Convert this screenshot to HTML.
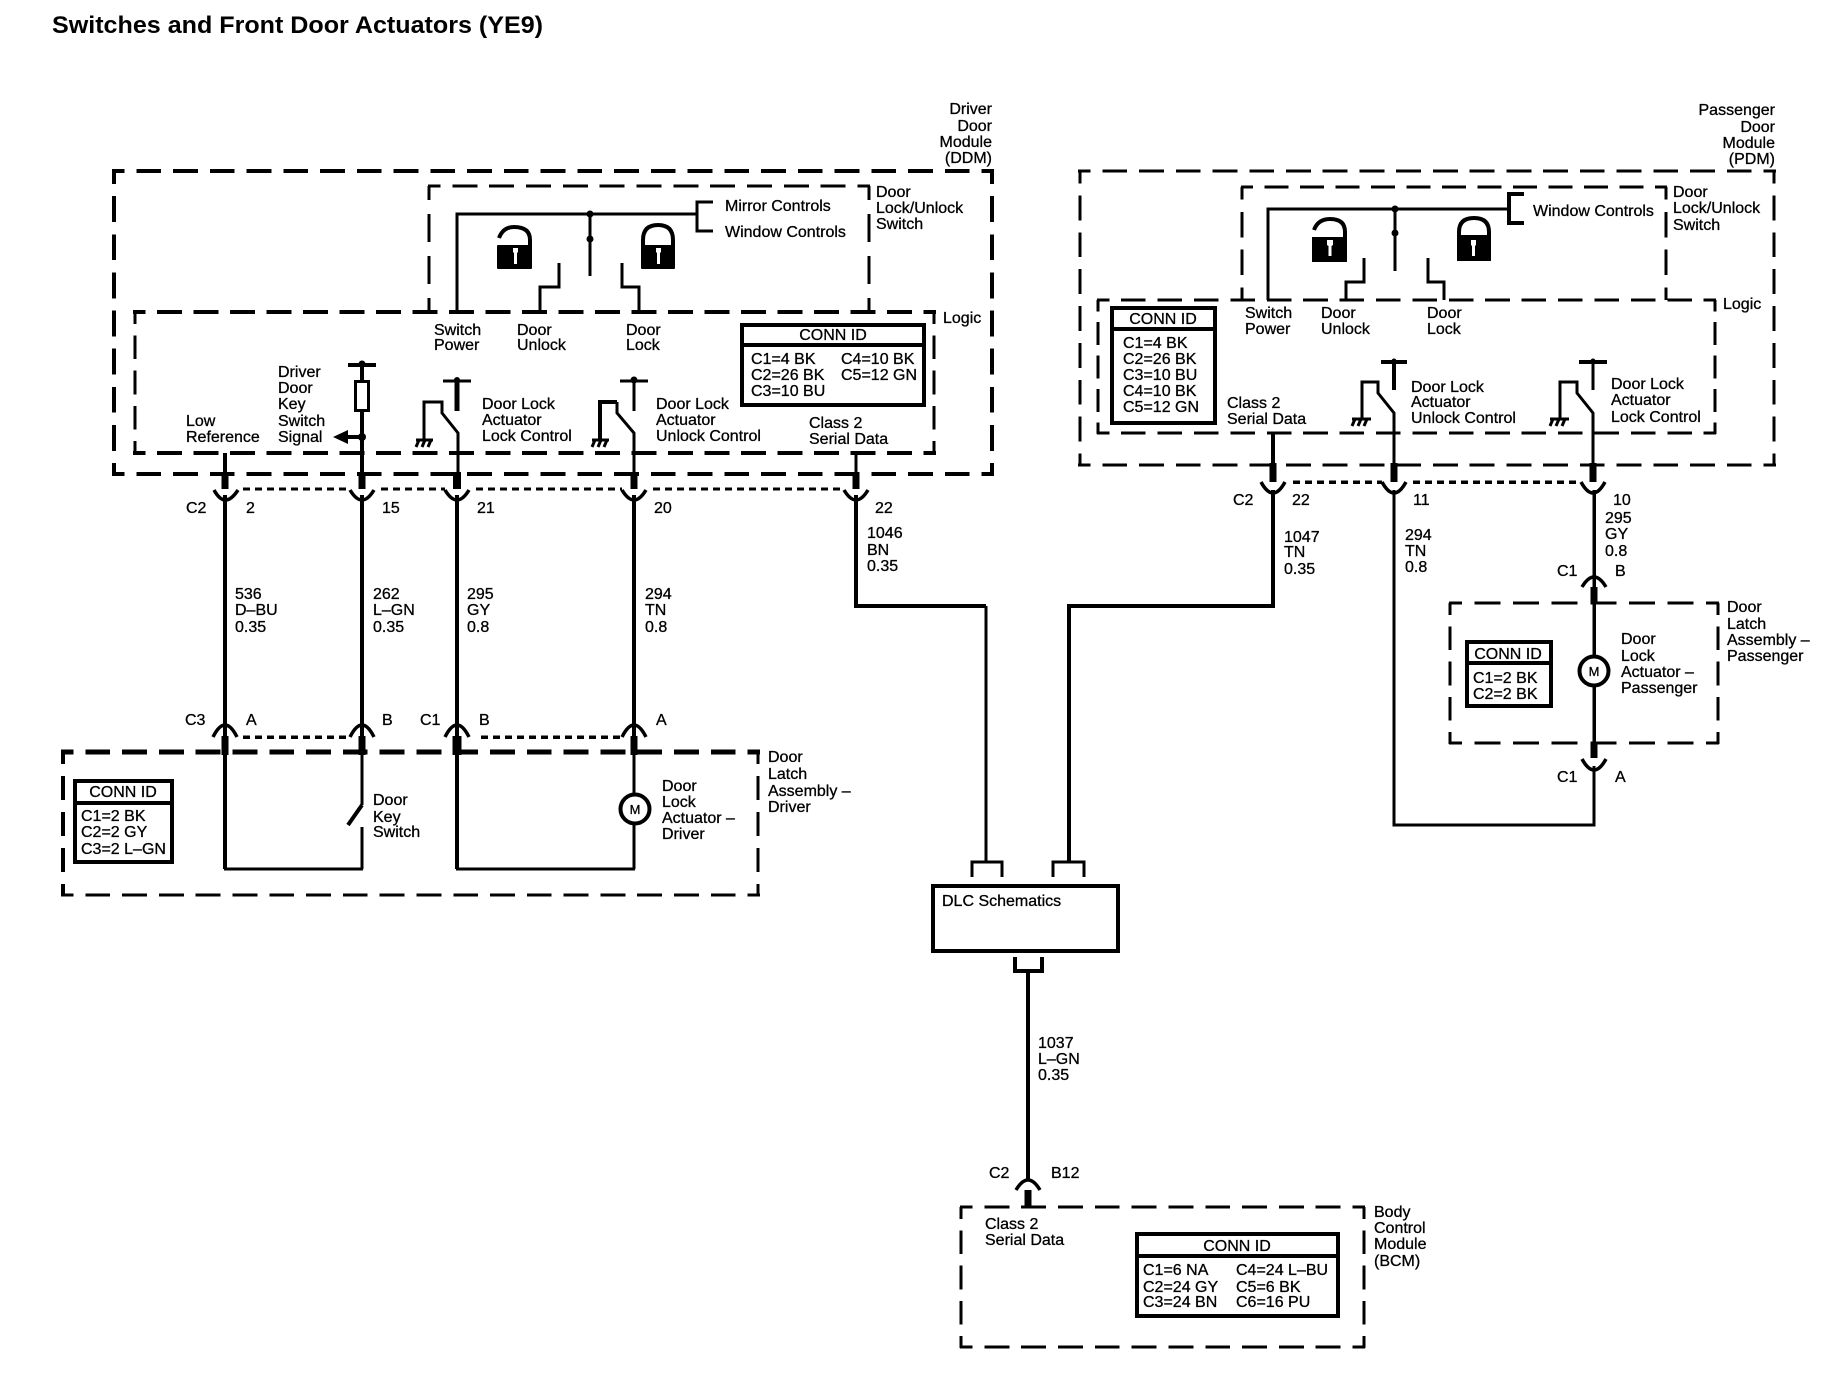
<!DOCTYPE html>
<html><head><meta charset="utf-8"><title>Switches and Front Door Actuators (YE9)</title>
<style>
html,body{margin:0;padding:0;background:#fff}
svg{display:block}
text{font-family:"Liberation Sans",sans-serif;font-size:16px;fill:#000;stroke:#000;stroke-width:.3}
.t{font-weight:bold;font-size:24px;stroke-width:0}
.m{text-anchor:end}
.c{text-anchor:middle}
.d{fill:none;stroke:#000;stroke-width:4;stroke-dasharray:25 12;stroke-dashoffset:12.5}
.e{fill:none;stroke:#000;stroke-width:3;stroke-dasharray:25 12;stroke-dashoffset:12.5}
.w{fill:none;stroke:#000;stroke-width:4}
.n{fill:none;stroke:#000;stroke-width:3}
.k{fill:none;stroke:#000;stroke-width:7}
.o{fill:none;stroke:#000;stroke-width:3.5;stroke-dasharray:7 5}
.p{fill:none;stroke:#000;stroke-width:3;stroke-dasharray:7 5}
.b{fill:#fff;stroke:#000;stroke-width:4}
.u{fill:none;stroke:#000;stroke-width:3.5}
</style></head><body>
<svg width="1826" height="1392" viewBox="0 0 1826 1392" xmlns="http://www.w3.org/2000/svg">
<rect width="1826" height="1392" fill="#fff"/>
<text class="t" x="52" y="33" textLength="491" lengthAdjust="spacingAndGlyphs">Switches and Front Door Actuators (YE9)</text>

<!-- dashed boxes -->
<g shape-rendering="crispEdges">
<path class="d" pathLength="888" d="M112 171H994"/><path class="d" pathLength="888" d="M112 474H994"/>
<path class="d" pathLength="296" d="M114 171V476"/><path class="d" pathLength="296" d="M992 171V476"/>
<path class="e" pathLength="444" d="M428 186H870"/><path class="e" pathLength="111" d="M429 186V312"/><path class="e" pathLength="111" d="M869 186V312"/>
<path class="d" pathLength="814" d="M133 312H936"/><path class="d" pathLength="814" d="M133 453H936"/>
<path class="e" pathLength="148" d="M135 312V453"/><path class="e" pathLength="148" d="M934 312V453"/>
<path class="d" style="stroke-width:5" pathLength="703" d="M61 752H760"/><path class="e" pathLength="703" d="M61 895H760"/>
<path class="d" pathLength="148" d="M63 752V896"/><path class="d" style="stroke-width:3" pathLength="148" d="M758 752V896"/>

<path class="e" pathLength="703" d="M1078 171H1776"/><path class="e" pathLength="703" d="M1078 465H1776"/>
<path class="e" pathLength="296" d="M1080 171V466"/><path class="e" pathLength="296" d="M1774 171V466"/>
<path class="e" pathLength="444" d="M1241 187H1667"/><path class="e" pathLength="111" d="M1242 187V300"/><path class="e" pathLength="111" d="M1666 187V300"/>
<path class="e" pathLength="629" d="M1097 300H1716"/><path class="e" pathLength="629" d="M1097 433H1716"/>
<path class="e" pathLength="148" d="M1098 300V434"/><path class="e" pathLength="148" d="M1715 300V434"/>
<path class="e" pathLength="259" d="M1449 603H1719"/><path class="e" pathLength="259" d="M1449 743H1719"/>
<path class="e" pathLength="148" d="M1450 603V744"/><path class="e" pathLength="148" d="M1718 603V744"/>
<path class="e" pathLength="407" d="M960 1207H1365"/><path class="e" pathLength="407" d="M960 1347H1365"/>
<path class="e" pathLength="148" d="M961 1207V1348"/><path class="e" pathLength="148" d="M1364 1207V1348"/>
</g>

<!-- driver switch internals -->
<g shape-rendering="crispEdges">
<path class="n" d="M457 312V214H697"/>
<path class="n" d="M590 214V276"/>
<path class="n" d="M713 202H697V231H713"/>
<path class="n" d="M559 263V287H540V312"/>
<path class="n" d="M622 263V287H639V312"/>
<!-- passenger switch internals -->
<path class="n" d="M1268 300V209H1509"/>
<path class="n" d="M1395 209V271"/>
<path class="w" d="M1524 194H1509V223H1524"/>
<path class="n" d="M1364 258V282H1346V300"/>
<path class="n" d="M1428 258V282H1444V300"/>
</g>
<circle cx="590" cy="214" r="3.5"/><circle cx="590" cy="239" r="3.5"/>
<circle cx="1395" cy="209" r="3.5"/><circle cx="1395" cy="233" r="3.5"/>

<!-- padlocks -->
<rect x="497" y="245" width="35" height="24" rx="1"/>
<path class="w" d="M499 238Q503 227 514 227Q530 227 530 240V247"/>
<path fill="#fff" d="M513 248h5v4l-1 1v11h-3v-11l-1-1z"/>
<rect x="641" y="245" width="34" height="24" rx="1"/>
<path class="w" d="M643 247V240Q643 225 658 225Q673 225 673 240V247"/>
<path fill="#fff" d="M656 248h5v4l-1 1v11h-3v-11l-1-1z"/>
<rect x="1312" y="237" width="35" height="25"/>
<path class="w" d="M1314 230Q1318 219 1330 219Q1345 219 1345 232V238"/>
<path fill="#fff" d="M1327 240h6v5l-1.500 1v10h-3v-10l-1.500-1z"/>
<rect x="1457" y="235" width="34" height="26"/>
<path class="w" d="M1459 237V232Q1459 218 1474 218Q1489 218 1489 232V237"/>
<path fill="#fff" d="M1471 240h5v5l-1 1v10h-3v-10l-1-1z"/>

<!-- driver logic internals -->
<path class="w" d="M225 453V474" shape-rendering="crispEdges"/>
<path class="w" d="M348 365H376" shape-rendering="crispEdges"/>
<circle cx="362" cy="364" r="3.500"/>
<path class="w" d="M362 365V381M362 411V474" shape-rendering="crispEdges"/>
<rect x="355.500" y="381.500" width="13" height="29" fill="#fff" stroke="#000" stroke-width="3" shape-rendering="crispEdges"/>
<path d="M333 437L348 430V444Z"/><path class="w" d="M346 437H362" shape-rendering="crispEdges"/><circle cx="362" cy="437" r="4"/>

<path class="n" d="M443 381H471"/><circle cx="457" cy="380" r="3"/>
<path class="w" style="stroke-width:5" d="M457 381V411"/>
<path class="n" d="M424 440V402H442V413L458 433V474"/>
<path class="n" d="M416 440H433M419 440L416 447M425 440L422 447M431 440L428 447"/>

<path class="n" d="M620 381H648"/><circle cx="634" cy="380" r="3.500"/>
<path class="n" d="M634 381V411"/>
<path class="w" d="M600 440V402H617"/><path class="n" d="M617 402V413L634 433V474"/>
<path class="n" d="M592 440H609M595 440L592 447M601 440L598 447M607 440L604 447"/>
<path class="n" d="M856 453V474" shape-rendering="crispEdges"/>

<!-- passenger logic internals -->
<path class="w" d="M1381 362H1407"/><circle cx="1394" cy="361" r="2.500"/>
<path class="w" d="M1394 362V390"/>
<path class="n" d="M1362 419V382H1378V393L1394 413V465"/>
<path class="n" d="M1352 419H1371M1355 419L1352 426M1361 419L1358 426M1367 419L1364 426"/>
<path class="w" d="M1579 362H1607"/><circle cx="1593" cy="361" r="2.500"/>
<path class="n" d="M1593 362V390"/>
<path class="n" d="M1560 419V382H1577V393L1593 413V465"/>
<path class="n" d="M1550 419H1569M1553 419L1550 426M1559 419L1556 426M1565 419L1562 426"/>
<path class="w" d="M1273 433V465" shape-rendering="crispEdges"/>

<!-- thick stubs -->
<g shape-rendering="crispEdges">
<path class="k" d="M225 472V489M362 472V489"/><path class="k" style="stroke-width:8" d="M457 472V489"/><path class="k" d="M634 472V489M856 472V489"/>
<path class="k" d="M1273 463V482M1394 463V482M1593 463V482"/>
<path class="k" d="M225 736V755M362 736V755"/><path class="k" style="stroke-width:9" d="M457 736V755"/><path class="k" d="M634 736V755"/>
<path class="k" d="M1594 587V604M1594 742V758M1028 1190V1208"/>
</g>
<!-- cups -->
<path class="u" d="M214 490Q225 510 238 490M350 490Q362 510 374 490M445 490Q457 510 469 490M622 490Q634 510 646 490M844 490Q856 510 868 490"/>
<path class="u" d="M1261 482Q1273 504 1285 482M1382 482Q1394 504 1406 482M1581 482Q1593 504 1605 482"/>
<path class="u" d="M213 737Q225 713 237 737M350 737Q362 713 374 737M445 737Q457 713 469 737M622 737Q634 713 646 737"/>
<path class="u" d="M1582 587Q1594 567 1606 587M1582 759Q1594 781 1606 759M1016 1190Q1028 1170 1040 1190"/>
<!-- dotted -->
<g shape-rendering="crispEdges">
<path class="p" d="M243 489H350M381 489H445M476 489H622M653 489H844"/>
<path class="o" d="M1293 482H1382M1413 482H1581"/>
<path class="o" d="M243 737H350M481 737H622"/>
</g>

<!-- wires -->
<g shape-rendering="crispEdges">
<path class="w" d="M225 495V736M362 495V736M457 495V736M634 495V736"/>
<path class="w" d="M225 755V869M457 755V869"/>
<path class="n" d="M224 869H363M456 869H635"/>
<path class="n" d="M362 869V827"/>
<path class="n" d="M362 755V805"/>
<path class="n" d="M634 869V825M634 755V794"/>
<path class="w" d="M856 495V606H986"/>
<path class="n" d="M986 606V862"/>
<path class="w" d="M1273 490V606H1069V862"/>
<path class="n" d="M1394 490V825H1594V766"/>
<path class="u" d="M1594 490V587M1594 604V657M1594 686V742"/>
<path class="w" d="M1028 973V1180"/>
<path class="n" d="M972 877V862H1002V877"/>
<path class="n" d="M1053 877V862H1084V877"/>
<path class="w" d="M1015 957V971H1042V957"/>
</g>
<path class="w" d="M362 805L348 825"/>
<circle cx="635" cy="809" r="14.500" fill="#fff" stroke="#000" stroke-width="4"/>
<circle cx="1594" cy="671" r="14.500" fill="#fff" stroke="#000" stroke-width="4"/>
<text class="c" x="635" y="814" style="font-size:13px">M</text>
<text class="c" x="1594" y="676" style="font-size:13px">M</text>

<!-- DLC -->
<rect class="b" x="933" y="886" width="185" height="65" shape-rendering="crispEdges"/>
<text x="942" y="906">DLC Schematics</text>

<!-- conn boxes -->
<g shape-rendering="crispEdges">
<rect class="b" x="742" y="325" width="182" height="80"/><path class="w" d="M742 345H924"/>
<rect class="b" x="1112" y="308" width="103" height="115"/><path class="w" d="M1112 329H1215"/>
<rect class="b" x="75" y="781" width="97" height="81"/><path class="w" d="M75 803H172"/>
<rect class="b" x="1467" y="642" width="84" height="64"/><path class="w" d="M1467 663H1551"/>
<rect class="b" x="1137" y="1234" width="201" height="82"/><path class="w" d="M1137 1256H1338"/>
</g>
<text class="c" x="833" y="340">CONN ID</text>
<text x="751" y="364">C1=4 BK</text><text x="751" y="380">C2=26 BK</text><text x="751" y="396">C3=10 BU</text>
<text x="841" y="364">C4=10 BK</text><text x="841" y="380">C5=12 GN</text>
<text class="c" x="1163" y="324">CONN ID</text>
<text x="1123" y="348">C1=4 BK</text><text x="1123" y="364">C2=26 BK</text><text x="1123" y="380">C3=10 BU</text><text x="1123" y="396">C4=10 BK</text><text x="1123" y="412">C5=12 GN</text>
<text class="c" x="123" y="797">CONN ID</text>
<text x="81" y="821">C1=2 BK</text><text x="81" y="837">C2=2 GY</text><text x="81" y="854">C3=2 L&#8211;GN</text>
<text class="c" x="1508" y="659">CONN ID</text>
<text x="1473" y="683">C1=2 BK</text><text x="1473" y="699">C2=2 BK</text>
<text class="c" x="1237" y="1251">CONN ID</text>
<text x="1143" y="1275">C1=6 NA</text><text x="1143" y="1292">C2=24 GY</text><text x="1143" y="1307">C3=24 BN</text>
<text x="1236" y="1275">C4=24 L&#8211;BU</text><text x="1236" y="1292">C5=6 BK</text><text x="1236" y="1307">C6=16 PU</text>

<!-- driver labels -->
<text class="m" x="992" y="114">Driver</text><text class="m" x="992" y="131">Door</text><text class="m" x="992" y="147">Module</text><text class="m" x="992" y="163">(DDM)</text>
<text x="876" y="197">Door</text><text x="876" y="213">Lock/Unlock</text><text x="876" y="229">Switch</text>
<text x="725" y="211">Mirror Controls</text><text x="725" y="237">Window Controls</text>
<text x="943" y="323">Logic</text>
<text x="434" y="335">Switch</text><text x="434" y="350">Power</text>
<text x="517" y="335">Door</text><text x="517" y="350">Unlock</text>
<text x="626" y="335">Door</text><text x="626" y="350">Lock</text>
<text x="186" y="426">Low</text><text x="186" y="442">Reference</text>
<text x="278" y="377">Driver</text><text x="278" y="393">Door</text><text x="278" y="409">Key</text><text x="278" y="426">Switch</text><text x="278" y="442">Signal</text>
<text x="482" y="409">Door Lock</text><text x="482" y="425">Actuator</text><text x="482" y="441">Lock Control</text>
<text x="656" y="409">Door Lock</text><text x="656" y="425">Actuator</text><text x="656" y="441">Unlock Control</text>
<text x="809" y="428">Class 2</text><text x="809" y="444">Serial Data</text>
<text x="186" y="513">C2</text><text x="246" y="513">2</text><text x="382" y="513">15</text><text x="477" y="513">21</text><text x="654" y="513">20</text><text x="875" y="513">22</text>
<text x="867" y="538">1046</text><text x="867" y="555">BN</text><text x="867" y="571">0.35</text>
<text x="235" y="599">536</text><text x="235" y="615">D&#8211;BU</text><text x="235" y="632">0.35</text>
<text x="373" y="599">262</text><text x="373" y="615">L&#8211;GN</text><text x="373" y="632">0.35</text>
<text x="467" y="599">295</text><text x="467" y="615">GY</text><text x="467" y="632">0.8</text>
<text x="645" y="599">294</text><text x="645" y="615">TN</text><text x="645" y="632">0.8</text>
<text x="185" y="725">C3</text><text x="246" y="725">A</text><text x="382" y="725">B</text><text x="420" y="725">C1</text><text x="479" y="725">B</text><text x="656" y="725">A</text>
<text x="768" y="762">Door</text><text x="768" y="779">Latch</text><text x="768" y="796">Assembly &#8211;</text><text x="768" y="812">Driver</text>
<text x="662" y="791">Door</text><text x="662" y="807">Lock</text><text x="662" y="823">Actuator &#8211;</text><text x="662" y="839">Driver</text>
<text x="373" y="805">Door</text><text x="373" y="822">Key</text><text x="373" y="837">Switch</text>

<!-- passenger labels -->
<text class="m" x="1775" y="115">Passenger</text><text class="m" x="1775" y="132">Door</text><text class="m" x="1775" y="148">Module</text><text class="m" x="1775" y="164">(PDM)</text>
<text x="1673" y="197">Door</text><text x="1673" y="213">Lock/Unlock</text><text x="1673" y="230">Switch</text>
<text x="1533" y="216">Window Controls</text>
<text x="1723" y="309">Logic</text>
<text x="1245" y="318">Switch</text><text x="1245" y="334">Power</text>
<text x="1321" y="318">Door</text><text x="1321" y="334">Unlock</text>
<text x="1427" y="318">Door</text><text x="1427" y="334">Lock</text>
<text x="1411" y="392">Door Lock</text><text x="1411" y="407">Actuator</text><text x="1411" y="423">Unlock Control</text>
<text x="1611" y="389">Door Lock</text><text x="1611" y="405">Actuator</text><text x="1611" y="422">Lock Control</text>
<text x="1227" y="408">Class 2</text><text x="1227" y="424">Serial Data</text>
<text x="1233" y="505">C2</text><text x="1292" y="505">22</text><text x="1413" y="505">11</text><text x="1613" y="505">10</text>
<text x="1284" y="542">1047</text><text x="1284" y="557">TN</text><text x="1284" y="574">0.35</text>
<text x="1405" y="540">294</text><text x="1405" y="556">TN</text><text x="1405" y="572">0.8</text>
<text x="1605" y="523">295</text><text x="1605" y="539">GY</text><text x="1605" y="556">0.8</text>
<text x="1557" y="576">C1</text><text x="1615" y="576">B</text><text x="1557" y="782">C1</text><text x="1615" y="782">A</text>
<text x="1727" y="612">Door</text><text x="1727" y="629">Latch</text><text x="1727" y="645">Assembly &#8211;</text><text x="1727" y="661">Passenger</text>
<text x="1621" y="644">Door</text><text x="1621" y="661">Lock</text><text x="1621" y="677">Actuator &#8211;</text><text x="1621" y="693">Passenger</text>

<!-- BCM labels -->
<text x="1038" y="1048">1037</text><text x="1038" y="1064">L&#8211;GN</text><text x="1038" y="1080">0.35</text>
<text x="989" y="1178">C2</text><text x="1051" y="1178">B12</text>
<text x="985" y="1229">Class 2</text><text x="985" y="1245">Serial Data</text>
<text x="1374" y="1217">Body</text><text x="1374" y="1233">Control</text><text x="1374" y="1249">Module</text><text x="1374" y="1266">(BCM)</text>
</svg>
</body></html>
